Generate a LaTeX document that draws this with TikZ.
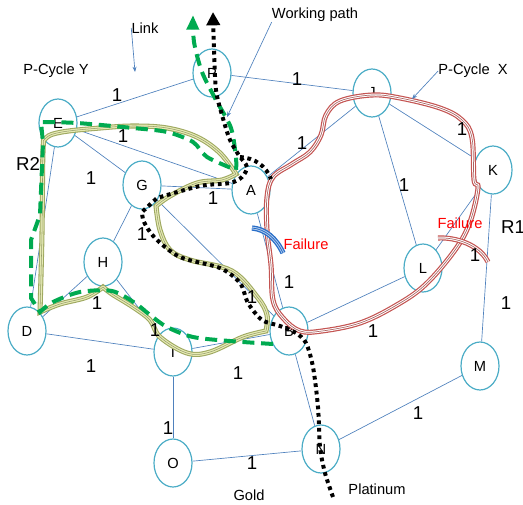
\documentclass[tikz,border=0pt]{standalone}
\usepackage{fontspec}
\setmainfont{Liberation Sans}
\usetikzlibrary{shapes.geometric, arrows.meta}

\definecolor{nodecyan}{RGB}{75,172,198}
\definecolor{linkblue}{RGB}{79,129,189}
\definecolor{cycred}{RGB}{196,84,82}
\definecolor{cycolive}{RGB}{158,168,96}
\definecolor{cycyellow}{RGB}{230,234,180}
\definecolor{bkgreen}{RGB}{0,170,80}
\definecolor{failblue}{RGB}{40,110,200}

\tikzstyle{site}=[ellipse, draw=nodecyan, line width=0.9pt,
                  minimum width=28.5pt, minimum height=36pt, inner sep=0pt,
                  font=\fontsize{11}{13}\selectfont]
\tikzstyle{link}=[draw=linkblue, line width=0.5pt]
\tikzstyle{weight}=[inner sep=0pt, font=\fontsize{14}{16}\selectfont]
\tikzstyle{note}=[inner sep=0pt, font=\fontsize{11}{13}\selectfont]
\tikzstyle{ring}=[inner sep=0pt, font=\fontsize{14}{16}\selectfont]
\tikzstyle{alert}=[inner sep=0pt, text=red, font=\fontsize{11}{13}\selectfont]
\tikzstyle{pointer}=[draw=linkblue, line width=0.5pt,
                     -{Stealth[length=4pt, width=3pt]}]
\tikzstyle{pcyclex}=[preaction={draw=cycred, line width=3.8pt}, draw=white,
                     line width=2pt, line join=round,
                     postaction={draw=cycred!60!gray, line width=0.5pt}]
\tikzstyle{pcycley}=[preaction={draw=cycolive, line width=3.8pt}, draw=cycyellow,
                     line width=2.2pt, line join=round,
                     postaction={draw=cycolive!70!gray, line width=0.4pt}]
\tikzstyle{cut}=[preaction={draw=failblue, line width=4pt}, draw=failblue!35,
                 line width=2pt,
                 postaction={draw=failblue, line width=0.6pt}]
\tikzstyle{backup}=[draw=bkgreen, line width=3pt, dash pattern=on 9pt off 5pt]
\tikzstyle{working}=[draw=black, line width=3pt, dash pattern=on 2.8pt off 2.8pt]

\begin{document}
\begin{tikzpicture}[x=0.75pt, y=-0.75pt]

  \useasboundingbox (0, 0) rectangle (523, 504);

  \node (P) at (212, 73) [site] {P};
  \node (E) at (58, 123) [site] {E};
  \node (G) at (142, 185) [site] {G};
  \node (A) at (251, 190) [site] {A};
  \node (J) at (372, 93) [site] {J};
  \node (K) at (493, 170) [site] {K};
  \node (L) at (423, 268) [site] {L};
  \node (H) at (103, 262) [site] {H};
  \node (D) at (27, 331) [site] {D};
  \node (I) at (173, 352) [site] {I};
  \node (O) at (173, 463) [site] {O};
  \node (B) at (289, 331) [site] {B};
  \node (N) at (321, 449) [site] {N};
  \node (M) at (480, 366) [site] {M};

  % links
  \draw [link] (P) -- (E);
  \draw [link] (P) -- (J);
  \draw [link] (E) -- (A);
  \draw [link] (E) -- (G);
  \draw [link] (E) -- (D);
  \draw [link] (G) -- (A);
  \draw [link] (G) -- (H);
  \draw [link] (G) -- (B);
  \draw [link] (A) -- (J);
  \draw [link] (A) -- (B);
  \draw [link] (J) -- (K);
  \draw [link] (J) -- (L);
  \draw [link] (K) -- (L);
  \draw [link] (K) -- (M);
  \draw [link] (L) -- (B);
  \draw [link] (D) -- (H);
  \draw [link] (D) -- (I);
  \draw [link] (H) -- (I);
  \draw [link] (I) -- (B);
  \draw [link] (I) -- (O);
  \draw [link] (O) -- (N);
  \draw [link] (B) -- (N);
  \draw [link] (N) -- (M);

  %%%%%%%%%%%%%%%%%%%%%%%%%%%%%%
  % p-cycles
  \draw [pcycley] plot [smooth, tension=0.6] coordinates {(236,174) (220,153)
      (197,137) (167,128) (133,126) (100,128) (62,132) (46,138) (43,152)
      (42,233) (40,312)}
    -- plot [smooth, tension=0.6] coordinates {(40,312) (60,304) (87,297) (103,287)}
    -- plot [smooth, tension=0.6] coordinates {(103,287) (112,294) (133,307)
      (150,320) (160,337) (187,353) (210,352) (243,337) (266,331)}
    -- plot [smooth, tension=0.6] coordinates {(266,331) (267,315) (258,298)
      (232,271) (190,260) (170,250) (160,230) (156,206)}
    -- plot [smooth, tension=0.6] coordinates {(156,206) (170,196) (197,183)
      (222,180) (236,174)} -- cycle;

  \draw [pcyclex] plot [smooth cycle, tension=0.6] coordinates {(300,331)
      (283,318) (273,300) (271,265) (267,230) (267,197) (273,177) (292,164)
      (310,152) (321,135) (326,115) (340,101) (372,95) (400,98) (440,108)
      (462,120) (472,138) (474,180) (478,188) (470,222) (455,250) (425,285)
      (395,306) (360,323) (322,331)};

  % failures
  \draw [cut] (252, 228) .. controls (265, 229) and (276, 238) .. (283, 253);
  \draw [pcyclex] (438, 238) .. controls (456, 237) and (480, 245) .. (488, 262);

  % backup route
  \draw [backup, -{Triangle[length=11pt, width=9pt]}]
    plot [smooth, tension=0.5] coordinates {(273,344) (230,341) (193,337)
      (167,327) (150,315) (135,303) (112,291) (80,292) (53,302) (40,312)}
    -- (31, 298) -- (31, 240) -- (40, 215) -- (43, 143) -- (41, 122)
    -- plot [smooth, tension=0.5] coordinates {(41,122) (77,123) (133,128)
      (167,132) (193,142) (207,157) (236,170)}
    -- plot [smooth, tension=0.5] coordinates {(236,170) (236,158) (231,128)
      (216,100) (202,72) (194,42) (193,15)};

  % working path
  \coordinate (split) at (240, 157);
  \draw [working, -{Triangle[length=10pt, width=10pt]}]
    plot [smooth, tension=0.5] coordinates {(333,497) (325,473) (320,447)
      (318,407) (313,367) (306,343) (296,333) (280,326) (262,320) (248,303)
      (240,283) (220,268) (180,257) (155,238) (144,222) (142,212)}
    -- plot [smooth, tension=0.5] coordinates {(157,198) (200,186) (230,183)
      (242,177) (247,167) (240,157)}
    -- plot [smooth, tension=0.5] coordinates {(240,157) (230,140) (222,115)
      (216,90) (214,50) (213,12)};
  \draw [working] (split) .. controls (255, 158) and (266, 166) .. (271, 179);

  % weights
  \foreach \wx/\wy [count=\wi] in {117/95, 297/79, 123/136, 91/178, 213/198,
      142/234, 302/143, 462/129, 404/185, 475/255, 506/303, 289/282, 373/331,
      252/297, 97/303, 155/330, 91/366, 238/373, 168/428, 252/463, 418/413}
    \node (w\wi) at (\wx, \wy) [weight] {1};

  %%%%%%%%%%%%%%%%%%%%%%%%%%%%%%
  % legends
  \node (link) at (145, 28) [note] {Link};
  \node (pcy) at (56, 71) [note] {P-Cycle Y};
  \node (wp) at (315, 15) [note] {Working path};
  \node (pcx) at (473, 71) [note] {P-Cycle\ \ X};
  \node (r2) at (28, 164) [ring] {R2};
  \node (r1) at (513, 227) [ring] {R1};
  \node (fail1) at (306, 244) [alert] {Failure};
  \node (fail2) at (460, 223) [alert] {Failure};
  \node (gold) at (249, 495) [note] {Gold};
  \node (plat) at (377, 489) [note] {Platinum};

  \coordinate (linktip) at (135, 72);
  \coordinate (wptip) at (227, 117);
  \coordinate (pcxtip) at (412, 99);
  \draw [pointer] (link.west) -- (linktip);
  \draw [pointer] (wp.south west) -- (wptip);
  \draw [pointer] (pcx.west) -- (pcxtip);

\end{tikzpicture}
\end{document}
